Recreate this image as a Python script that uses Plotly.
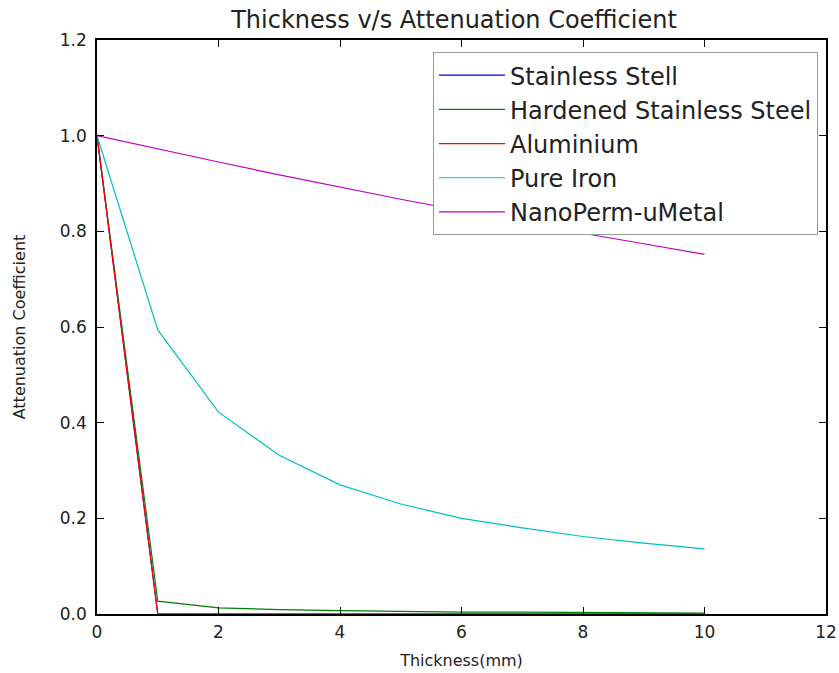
import plotly.graph_objects as go

thickness = [0, 1, 2, 3, 4, 5, 6, 7, 8, 9, 10]
stainless_stell = [1.0, 0.0, 0.0, 0.0, 0.0, 0.0, 0.0, 0.0, 0.0, 0.0, 0.0]
hardened_stainless = [1.0, 0.027, 0.013, 0.009, 0.007, 0.005, 0.004, 0.004, 0.003, 0.003, 0.002]
aluminium = [1.0, 0.0, 0.0, 0.0, 0.0, 0.0, 0.0, 0.0, 0.0, 0.0, 0.0]
pure_iron = [1.0, 0.594, 0.422, 0.332, 0.27, 0.23, 0.2, 0.18, 0.162, 0.148, 0.136]
nanoperm = [1.0, 0.972, 0.945, 0.918, 0.892, 0.867, 0.843, 0.819, 0.796, 0.774, 0.752]

series = [
    ("Stainless Stell", stainless_stell, "#0000ff"),
    ("Hardened Stainless Steel", hardened_stainless, "#008000"),
    ("Aluminium", aluminium, "#ff0000"),
    ("Pure Iron", pure_iron, "#00bfbf"),
    ("NanoPerm-uMetal", nanoperm, "#bf00bf"),
]

fig = go.Figure()
for name, vals, col in series:
    fig.add_trace(go.Scatter(x=thickness, y=vals, mode="lines", name=name,
                             line=dict(color=col, width=1.2)))

axis_common = dict(
    showline=True, linecolor="black", linewidth=1.5, mirror="allticks",
    ticks="inside", ticklen=7, tickcolor="black", showgrid=False, zeroline=False,
    automargin=False,
    tickfont=dict(family="DejaVu Sans", size=17, color="#222222"),
)

fig.update_layout(
    width=839, height=673,
    margin=dict(l=97, r=13, t=40, b=59),
    paper_bgcolor="white", plot_bgcolor="white",
    font=dict(family="DejaVu Sans", color="#222222"),
    title=dict(text="Thickness v/s Attenuation Coefficient", x=454 / 839, xanchor="center",
               y=1 - 20 / 673, yanchor="middle", font=dict(size=24), automargin=False),
    xaxis=dict(range=[0, 12], dtick=2, tickformat="d", ticklabelstandoff=2,
               title=dict(text="Thickness(mm)", font=dict(size=16), standoff=14), **axis_common),
    yaxis=dict(range=[0, 1.2], dtick=0.2, tickformat=".1f", ticklabelstandoff=5,
               title=dict(text="Attenuation Coefficient", font=dict(size=16), standoff=30), **axis_common),
    legend=dict(x=0.989, y=0.979, xanchor="right", yanchor="top",
                bordercolor="#999999", borderwidth=1, bgcolor="white",
                font=dict(size=24), itemwidth=66, tracegroupgap=0),
    showlegend=True,
)

fig.write_html("out.html", config={"displayModeBar": False},
               post_script="document.body.style.margin='0';")
